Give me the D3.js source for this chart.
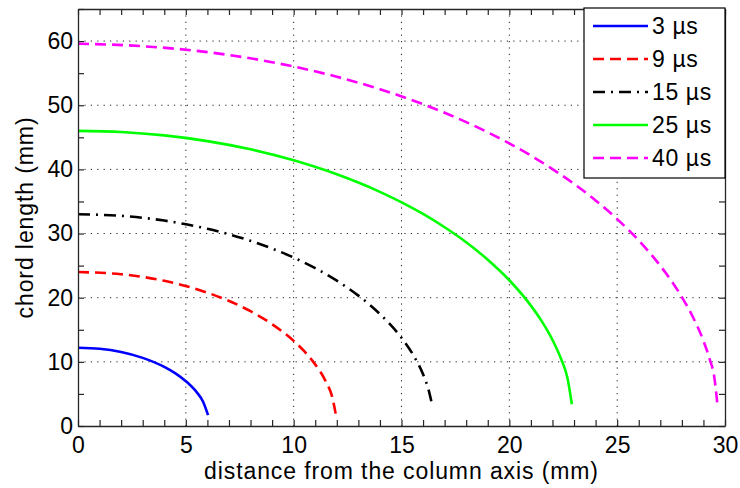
<!DOCTYPE html>
<html>
<head>
<meta charset="utf-8">
<script src="https://cdn.jsdelivr.net/npm/d3@7/dist/d3.min.js"></script>
<style>
  html, body { margin: 0; padding: 0; background: #fff; }
  svg { display: block; font-family: "Liberation Sans", Arial, Helvetica, sans-serif; }
</style>
</head>
<body>
<svg id="chart" width="740" height="488"></svg>
<script>
// ---- data ----
const seriesNames = ["3 µs", "9 µs", "15 µs", "25 µs", "40 µs"];
const seriesColors = ["#0000ff", "#ff0000", "#000000", "#00ff00", "#ff00ff"];
const seriesDash = [null, "11,6", "12,6,2,6", null, "11,6"];

const x3  = [0, 1, 2, 3, 4, 4.5, 5, 5.5, 5.8, 6.03];
const y3  = [12.2, 12.04, 11.53, 10.62, 9.21, 8.24, 6.99, 5.28, 3.78, 1.7];

const x9  = [0, 2, 4, 6, 8, 9, 10, 10.5, 11, 11.5, 11.8, 11.97];
const y9  = [24, 23.66, 22.63, 20.78, 17.89, 15.87, 13.27, 11.62, 9.59, 6.86, 4.36, 1.5];

const x15 = [0, 2, 4, 6, 8, 10, 11, 12, 13, 14, 15, 15.5, 16, 16.25, 16.42];
const y15 = [33, 32.76, 32.02, 30.74, 28.86, 26.25, 24.6, 22.65, 20.32, 17.46, 13.75, 11.31, 8.06, 5.72, 3.3];

const x25 = [0, 2, 4, 6, 8, 10, 12, 14, 16, 17, 18, 19, 20, 21, 21.5, 22, 22.4, 22.7, 22.9];
const y25 = [46, 45.83, 45.3, 44.41, 43.13, 41.42, 39.24, 36.5, 33.05, 30.98, 28.64, 25.92, 22.72, 18.76, 16.34, 13.42, 10.44, 7.41, 3.4];

const x40 = [0, 3, 6, 9, 12, 14, 16, 18, 20, 22, 24, 25, 26, 27, 28, 28.5, 29, 29.3, 29.5, 29.65];
const y40 = [59.6, 59.2, 58.28, 56.71, 54.44, 52.5, 50.16, 47.37, 44.05, 40.05, 35.16, 32.25, 28.92, 24.98, 20.1, 17.07, 13.28, 10.31, 7.7, 3.3];

const seriesX = [x3, x9, x15, x25, x40];
const seriesY = [y3, y9, y15, y25, y40];

const xMajorTicks = [0, 5, 10, 15, 20, 25, 30];
const yMajorTicks = [0, 10, 20, 30, 40, 50, 60];
const xMinorTicks = d3.range(0, 31, 1);
const yMinorTicks = d3.range(0, 66, 5);

const xLabel = "distance from the column axis (mm)";
const yLabel = "chord length (mm)";

// ---- layout ----
const L = 78, R = 725, T = 9, B = 426;
const W = R - L, H = B - T;
const svg = d3.select("#chart");

const x = d3.scaleLinear().domain([0, 30]).range([0, W]);
const y = d3.scaleLinear().domain([0, 65]).range([H, 0]);

const g = svg.append("g").attr("transform", `translate(${L},${T})`);

g.append("rect").attr("width", W).attr("height", H).attr("fill", "#fff");

// grid (dotted)
const grid = g.append("g").attr("class", "grid");
grid.selectAll("line.vx").data(xMajorTicks.slice(1, -1)).join("line")
  .attr("x1", d => x(d)).attr("x2", d => x(d)).attr("y1", 0).attr("y2", H)
  .attr("stroke", "#222").attr("stroke-width", 1).attr("stroke-dasharray", "1.2,5.2");
grid.selectAll("line.hy").data(yMajorTicks.slice(1)).join("line")
  .attr("x1", 0).attr("x2", W).attr("y1", d => y(d)).attr("y2", d => y(d))
  .attr("stroke", "#222").attr("stroke-width", 1).attr("stroke-dasharray", "1.2,5.2");

// series lines
const line = d3.line().x(d => x(d[0])).y(d => y(d[1])).curve(d3.curveMonotoneX);
seriesNames.forEach((name, i) => {
  const pts = seriesX[i].map((xv, j) => [xv, seriesY[i][j]]);
  const p = g.append("path").datum(pts)
    .attr("d", line)
    .attr("fill", "none")
    .attr("stroke", seriesColors[i])
    .attr("stroke-width", 2.6)
    .attr("stroke-linejoin", "round");
  if (seriesDash[i]) p.attr("stroke-dasharray", seriesDash[i]);
});

// axes
const fontSize = 23;
function styleAxis(sel) {
  sel.selectAll(".domain").attr("stroke", "#262626").attr("stroke-width", 1.3);
  sel.selectAll(".tick line").attr("stroke", "#262626").attr("stroke-width", 1.2);
  sel.selectAll(".tick text").attr("fill", "#000").attr("font-size", fontSize)
    .attr("font-family", "'Liberation Sans', Arial, sans-serif");
}
const xb = g.append("g").attr("transform", `translate(0,${H})`)
  .call(d3.axisBottom(x).tickValues(xMinorTicks).tickSizeInner(-6).tickSizeOuter(0).tickPadding(11)
    .tickFormat(d => (d % 5 === 0 ? d3.format("d")(d) : "")));
styleAxis(xb);
const xt = g.append("g")
  .call(d3.axisTop(x).tickValues(xMinorTicks).tickSizeInner(-6).tickSizeOuter(0).tickFormat(""));
styleAxis(xt);
const yl = g.append("g")
  .call(d3.axisLeft(y).tickValues(yMinorTicks).tickSizeInner(-6).tickSizeOuter(0).tickPadding(5)
    .tickFormat(d => (d % 10 === 0 ? d3.format("d")(d) : "")));
styleAxis(yl);
const yr = g.append("g").attr("transform", `translate(${W},0)`)
  .call(d3.axisRight(y).tickValues(yMinorTicks).tickSizeInner(-6).tickSizeOuter(0).tickFormat(""));
styleAxis(yr);

// axis labels
svg.append("text")
  .attr("x", (L + R) / 2).attr("y", 479)
  .attr("text-anchor", "middle")
  .attr("font-size", fontSize).attr("letter-spacing", "0.9px")
  .text(xLabel);
svg.append("text")
  .attr("transform", `translate(33,${(T + B) / 2}) rotate(-90)`)
  .attr("text-anchor", "middle")
  .attr("font-size", fontSize).attr("letter-spacing", "0.9px")
  .text(yLabel);

// legend
const lgX = 584, lgY = 8, lgW = 141, lgH = 170;
const lg = svg.append("g");
lg.append("rect").attr("x", lgX).attr("y", lgY).attr("width", lgW).attr("height", lgH)
  .attr("fill", "#fff").attr("stroke", "#000").attr("stroke-width", 1.2);
const rowY = d3.scalePoint().domain(seriesNames).range([26, 158]);
seriesNames.forEach((name, i) => {
  const yy = rowY(name);
  const ln = lg.append("line")
    .attr("x1", 593).attr("x2", 648).attr("y1", yy).attr("y2", yy)
    .attr("stroke", seriesColors[i]).attr("stroke-width", 2.6);
  if (seriesDash[i]) ln.attr("stroke-dasharray", seriesDash[i]);
  lg.append("text")
    .attr("x", 652).attr("y", yy + 8)
    .attr("font-size", fontSize).attr("letter-spacing", "0.6px")
    .text(name);
});
</script>
</body>
</html>
